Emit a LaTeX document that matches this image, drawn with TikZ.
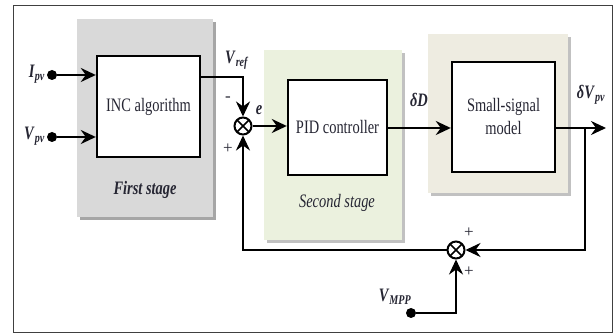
\documentclass[tikz,border=0pt]{standalone}
\usepackage{fontspec}
\setmainfont{Liberation Serif}
\usetikzlibrary{arrows.meta,calc}
\newcommand\sx[1]{\scalebox{0.76}[1]{#1}}
\newcommand\lbl[2]{\sx{\textbf{\textit{#1}}\textsubscript{\textbf{\textit{#2}}}}}
\definecolor{txt}{HTML}{262633}
\definecolor{graybg}{HTML}{D9D9D9}
\definecolor{greenbg}{HTML}{EBF1DE}
\definecolor{beigebg}{HTML}{EEECE1}
\definecolor{shadowc}{HTML}{A6A6A6}
\tikzset{
  blockbox/.style={draw=black,line width=2.4pt,fill=white,inner sep=0pt,align=center,font=\fontsize{19}{21}\selectfont,text=txt},
  sumj/.style={circle,draw=black,line width=2pt,fill=white,minimum size=17pt,inner sep=0pt,
    path picture={\draw[line width=1.6pt] (path picture bounding box.north west)--(path picture bounding box.south east)
      (path picture bounding box.north east)--(path picture bounding box.south west);}},
  sig/.style={line width=2.4pt,draw=black},
  arr/.style={sig,-{Stealth[length=15pt,width=14pt,inset=5pt]}},
  dot/.style={circle,fill=black,minimum size=10pt,inner sep=0pt},
  lab/.style={font=\fontsize{19}{21}\selectfont,text=txt,inner sep=1pt},
  sign/.style={font=\fontsize{17}{18}\selectfont,text=txt,inner sep=0pt},
  stagelab/.style={font=\fontsize{19}{21}\selectfont\bfseries\itshape,text=txt},
}
\begin{document}
\begin{tikzpicture}[x=1pt,y=-1pt]
\useasboundingbox (0,0) rectangle (616,336);
% frame
\draw[line width=1pt,draw=black!75] (13,6) rectangle (612,333);
% stage backgrounds with shadows
\fill[shadowc] (80,22) rectangle (216,220);
\fill[graybg] (77,19) rectangle (213,217);
\fill[shadowc!70] (267,53) rectangle (405,243);
\fill[greenbg] (264,50) rectangle (402,240);
\fill[shadowc!70] (431,37) rectangle (571,196);
\fill[beigebg] (428,34) rectangle (568,193);
% blocks
\node[blockbox,minimum width=103pt,minimum height=101pt] (inc) at (148.5,106.5) {\sx{INC algorithm}};
\node[blockbox,minimum width=99pt,minimum height=95pt] (pid) at (337.5,127.5) {\sx{PID controller}};
\node[blockbox,minimum width=103pt,minimum height=110pt] (ssm) at (503.5,117) {\sx{Small-signal}\\[2pt]\sx{model}};
\node[stagelab] (st1) at (145,190) {\sx{First stage}};
\node[stagelab,font=\fontsize{19}{21}\selectfont\itshape] (st2) at (337,203) {\sx{Second stage}};
% junctions
\node[sumj] (s1) at (243,126) {};
\node[sumj] (s2) at (456,250) {};
% inputs
\node[dot] (ipv) at (52,75) {};
\node[dot] (vpv) at (52,137) {};
\node[dot] (vmpp) at (411,313) {};
\node[lab,anchor=east] (lipv) at (46,74) {\lbl{I}{pv}};
\node[lab,anchor=east] (lvpv) at (46,136) {\lbl{V}{pv}};
\draw[arr] (ipv) -- (inc.west |- ipv);
\draw[arr] (vpv) -- (inc.west |- vpv);
% Vref
\coordinate (vr) at (inc.east |- 0,77);
\draw[arr] (vr) -| (s1.north);
\node[lab] (lvref) at (237,60) {\lbl{V}{ref}};
\node[sign] (m1) at (228,99) {-};
\node[sign] (p1) at (228,149) {+};
\node[lab] (le) at (259,110) {\sx{\textbf{\textit{e}}}};
% forward path
\draw[arr] (s1.east) -- (pid.west |- s1);
\draw[arr] (pid.east |- 0,128) -- (ssm.west |- 0,128);
\node[lab] (ldd) at (419,100) {\sx{\textbf{\textit{δD}}}};
\coordinate (out) at (606,128);
\draw[arr] (ssm.east |- out) -- (out);
\node[lab] (ldv) at (591,95) {\lbl{δV}{pv}};
% feedback
\coordinate (br) at (585,128);
\draw[arr] (br) |- (s2.east);
\coordinate (fl) at (243,250);
\draw[arr] (s2.west) -- (fl) -- (s1.south);
\draw[arr] (vmpp) -| (s2.south);
\node[sign] (p2) at (469,233) {+};
\node[sign] (p3) at (469,272) {+};
\node[lab] (lvmpp) at (395,297) {\lbl{V}{MPP}};
\end{tikzpicture}
\end{document}
